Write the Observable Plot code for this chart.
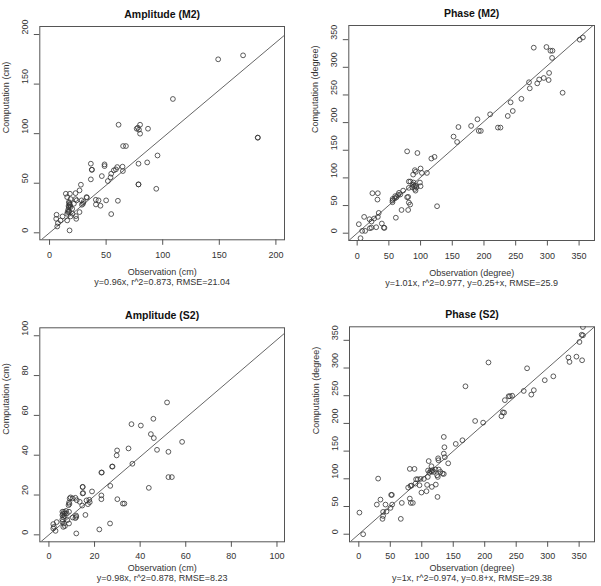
<!DOCTYPE html>
<html>
<head>
<meta charset="utf-8">
<script src="https://cdn.jsdelivr.net/npm/d3@7"></script>
<script src="https://cdn.jsdelivr.net/npm/@observablehq/plot@0.6"></script>
<style>
  html, body { margin: 0; padding: 0; background: #fff; overflow: hidden; }
  #chart { position: relative; width: 601px; height: 586px; overflow: hidden; background: #fff; }
  .panel { position: absolute; }
</style>
</head>
<body>
<div id="chart"></div>
<script>
// Observed vs computed tidal constituents, [observation, computation]

const ampM2 = [
  [149,175],[171,179],[109,135],[184,96],[184,96],[61,109],[78,106],[80,109],[77,105],[79,104],
  [80,100],[87,105],[65,87.5],[67.5,87.5],[95.4,78],[86.3,71],[78.6,69.7],[78.6,48.8],[78.6,48.8],[94.3,44.4],
  [36.5,69.7],[37.4,63.6],[37.4,63.6],[48.6,67.3],[48.6,69],[46.2,57.2],[36.5,53.9],[51.5,52.2],[53.9,55.9],[54.5,59.6],
  [56.8,63],[58.6,64],[59.8,66.3],[64.5,66.7],[64.8,62.3],[50,32.7],[60.4,32.3],[54.5,18.9],[43.3,32.7],[40.9,33.3],
  [45,27.3],[41,28.6],[27.7,48.5],[26.5,42.8],[32.7,36],[28.3,32.7],[29.5,29.3],[26.5,20.9],[23.3,16.8],[23.6,14.1],
  [17.7,2.4],[6.8,6.4],[7.4,9.8],[5.9,14.1],[11.5,16.5],[9.7,12.5],[6.2,18.2],[14.4,39.4],[18,39.4],[15.6,36],
  [18.6,34],[17.1,31],[17.7,28.6],[17.1,25.9],[16.5,23.2],[17.1,20.9],[15.6,19.2],[20,24.2],[21.5,29.3],[23,34],
  [23,40],[23.9,32.7],[20.3,19.2],[18.6,16.5],[15.6,12.5],[17.5,30],[18,28],[16.8,27],[17.2,22],[16,21],
  [18.5,26],[33,35.5],[30,31],[28.6,28.3]
];

const phaseM2 = [
  [351,350],[356,354],[278.5,335.5],[298.5,336.7],[304.8,330],[308,330],[307.4,317],[302.7,289.8],[302,277],[294.3,280.7],
  [287,278],[284,271],[271,273],[272.2,262],[324,254],[259,243],[242,236.7],[245.4,221],[237.5,212],[209.7,215],
  [222,191],[226,191],[189.7,206],[179.7,194],[159.7,192],[191.8,185],[195,185],[152,174.7],[157.6,165],[117,135],
  [122,138],[110,109],[102,109],[100,117],[99,91.6],[100,85],[92.5,111],[91,114],[78.8,148],[95,145],
  [88.3,106],[81.5,93.4],[84,93.4],[89,91.6],[92,86],[91,80],[87,83],[92,77],[93.5,83],[81.5,82],
  [72.5,77],[66,73],[64.6,69],[62,65],[59.4,63],[55.7,56],[55.7,59],[56,62],[78.8,65],[80.4,65.7],
  [81.5,55.4],[83.6,51.8],[80.4,42],[70,42],[126,48.8],[61,28],[32.6,72.3],[24,72.3],[32,60.8],[34,36.7],
  [32.6,29.5],[26.8,26.5],[30,10.8],[22.6,10],[20,9],[38.9,17.5],[42,10],[43,9.6],[11,29.5],[2.6,16.3],
  [12.6,4.2],[7.9,4.2],[5.3,-9],[19.4,25.3],[22.6,21],[88,88],[90,85],[68,70],[60,67]
];

const ampS2 = [
  [51.8,66.5],[45.8,58.3],[36.2,55.6],[40.3,54.9],[44.7,50.6],[46,48.6],[58.4,46.7],[47.4,42.7],[52.4,41.7],[34.9,43.4],
  [29.9,42.4],[29.7,39.9],[27.7,34.3],[27.9,34.3],[36.6,35.7],[23,31.3],[23.2,31.3],[26.9,24.6],[43.8,23.6],[52.4,29],
  [53.9,29],[30,17.9],[32.4,15.7],[33.1,15.7],[23,19.8],[23,17.9],[18.9,21.8],[14.8,24.1],[14.8,20.8],[17.9,16.4],
  [17.1,15.4],[17.7,17.6],[16.5,17.3],[16,10],[26.8,5.7],[22.1,2.7],[12,0.7],[14.6,14.7],[13.5,16.6],[12.2,17.4],
  [10.4,18.3],[11.6,18.6],[9.1,18.3],[8.6,14.9],[8.8,16.2],[9.5,18.8],[11.9,9.7],[11.6,8.4],[10.5,8.7],[5.9,11.6],
  [6.6,11.6],[7,10.7],[7.8,10.7],[8.8,11.6],[5.9,9.9],[6.3,9],[6.9,9.4],[5.9,7.7],[5.9,6.5],[6.6,5.7],
  [8.1,7.4],[8.8,5.7],[7,4.4],[6.3,4],[1.9,5.4],[3.4,6.4],[1.9,3.2],[2.9,2],[2.2,4],[14.8,24],
  [12,9],[7.5,12],[6.2,10.5],[9,15.5],[15,21]
];

const phaseS2 = [
  [356,374],[354,360],[356,359],[350.5,347],[333,319],[334.7,311],[345.7,320.5],[354.7,314],[309,285],[295.4,278],
  [278,260],[274,252],[267.3,299.5],[262,258.6],[238,249],[240,249],[243.6,250],[232,242],[228.7,220],[230.8,219.5],
  [226.6,213],[197.5,201.4],[184.8,204.4],[169.4,267],[206,310],[164.6,169.6],[154,163],[135,175.6],[136,157],[135,145.5],
  [136.6,139],[142,128],[126,137],[126.5,133.5],[111,132],[110,115],[115.4,122.7],[117,115.5],[119,112.4],[121.8,116.7],
  [127,116.7],[129.7,112.4],[133,109.4],[124.4,106.4],[125.5,103.4],[135,108.8],[122.3,89.6],[125,67.3],[116,85.4],[107.5,77.6],
  [99.5,75.2],[108.5,89],[109.6,103.4],[103.3,99.8],[98,99.8],[93.7,99.2],[91,99.2],[90,91.4],[96.4,88.4],[82,87.2],
  [83.8,87.8],[78.4,84.2],[81,117.9],[88.4,117.9],[81,64.3],[82.6,56.5],[85.8,56.5],[68.3,56.5],[66.7,27.7],[51.4,71],
  [52.5,71],[53,53.5],[50.3,47.5],[44,41],[38.6,40.3],[42.4,53.5],[34.4,62.5],[28.6,53.5],[38.6,33],[37.6,27.7],
  [30.7,100.4],[1,39],[6.9,0],[114,114],[116,113],[112,111]
];

// Tick values for each axis
const ampM2Ticks = [0, 50, 100, 150, 200];
const phaseTicks = [0, 50, 100, 150, 200, 250, 300, 350];
const ampS2Ticks = [0, 20, 40, 60, 80, 100];

// Slopes of the fitted lines through the origin
const slopes = [0.96, 1.01, 0.98, 1];

const titles = ["Amplitude (M2)", "Phase (M2)", "Amplitude (S2)", "Phase (S2)"];
const xLabels = ["Observation (cm)", "Observation (degree)", "Observation (cm)", "Observation (degree)"];
const yLabels = ["Computation (cm)", "Computation (degree)", "Computation (cm)", "Computation (degree)"];
const captions = [
  "y=0.96x, r^2=0.873, RMSE=21.04",
  "y=1.01x, r^2=0.977, y=0.25+x, RMSE=25.9",
  "y=0.98x, r^2=0.878, RMSE=8.23",
  "y=1x, r^2=0.974, y=0.8+x, RMSE=29.38"
];

// Frame placement of each panel; the lower row packs its bottom texts tighter
const panels = [
  {data: ampM2, ticks: ampM2Ticks, xDomain: [-8.6, 207.6], yDomain: [-7.06, 208.1],
   left: 0, top: 0, width: 300, height: 293, ml: 39.3, mr: 16, mt: 26, mb: 53.7, tickDy: 18.4, labelDy: 35.4, capDy: 45},
  {data: phaseM2, ticks: phaseTicks, xDomain: [-13.2, 374.3], yDomain: [-13.2, 375.6],
   left: 300, top: 0, width: 301, height: 293, ml: 48.3, mr: 7, mt: 25, mb: 53, tickDy: 18.4, labelDy: 35.4, capDy: 45},
  {data: ampS2, ticks: ampS2Ticks, xDomain: [-4.0, 103.3], yDomain: [-3.5, 104.0],
   left: 0, top: 293, width: 300, height: 293, ml: 39.3, mr: 16, mt: 34.3, mb: 44.7, tickDy: 17.5, labelDy: 28.7, capDy: 39.3},
  {data: phaseS2, ticks: phaseTicks, xDomain: [-14.8, 374.4], yDomain: [-13.7, 374.4],
   left: 300, top: 293, width: 301, height: 293, ml: 49, mr: 7, mt: 33.3, mb: 44.7, tickDy: 17.5, labelDy: 28.7, capDy: 39.3}
];

const font = "'Liberation Sans', Arial, Helvetica, sans-serif";
const ink = "#333";
const rule = "#555";

const chart = document.getElementById("chart");

panels.forEach((p, i) => {
  const pts = p.data.map(([obs, comp]) => ({obs, comp}));
  const fit = p.xDomain.map((x) => ({x, y: slopes[i] * x}));

  const svg = Plot.plot({
    width: p.width,
    height: p.height,
    marginLeft: p.ml,
    marginRight: p.mr,
    marginTop: p.mt,
    marginBottom: p.mb,
    x: {domain: p.xDomain},
    y: {domain: p.yDomain},
    style: {fontFamily: font, fontSize: "9px", color: ink, background: "white", overflow: "visible"},
    marks: [
      Plot.frame({stroke: rule, strokeWidth: 1}),
      Plot.line(fit, {x: "x", y: "y", stroke: rule, strokeWidth: 0.9, clip: true}),
      Plot.dot(pts, {x: "obs", y: "comp", r: 2.4, stroke: ink, strokeWidth: 0.8, fill: "none", clip: true}),
      Plot.axisX({ticks: p.ticks, tickSize: 5.5, tickFormat: () => "", label: null, stroke: rule}),
      Plot.axisY({ticks: p.ticks, tickSize: 5.5, tickFormat: () => "", label: null, stroke: rule}),
      Plot.text(p.ticks, {x: (d) => d, text: (d) => String(d), frameAnchor: "bottom", dy: p.tickDy, fill: ink, fontSize: 9}),
      Plot.text(p.ticks, {y: (d) => d, text: (d) => String(d), frameAnchor: "left", dx: -14.5, rotate: -90, fill: ink, fontSize: 9}),
      Plot.text([xLabels[i]], {text: (d) => d, frameAnchor: "bottom", dy: p.labelDy, fill: ink, fontSize: 9}),
      Plot.text([captions[i]], {text: (d) => d, frameAnchor: "bottom", dy: p.capDy, fill: ink, fontSize: 9}),
      Plot.text([yLabels[i]], {text: (d) => d, frameAnchor: "left", dx: -33.5, rotate: -90, fill: ink, fontSize: 9}),
      Plot.text([titles[i]], {text: (d) => d, frameAnchor: "top", dy: -16, fill: "#111", fontSize: 10.5, fontWeight: "bold"})
    ]
  });

  const wrap = document.createElement("div");
  wrap.className = "panel";
  wrap.style.left = p.left + "px";
  wrap.style.top = p.top + "px";
  wrap.appendChild(svg);
  chart.appendChild(wrap);
});
</script>
</body>
</html>
